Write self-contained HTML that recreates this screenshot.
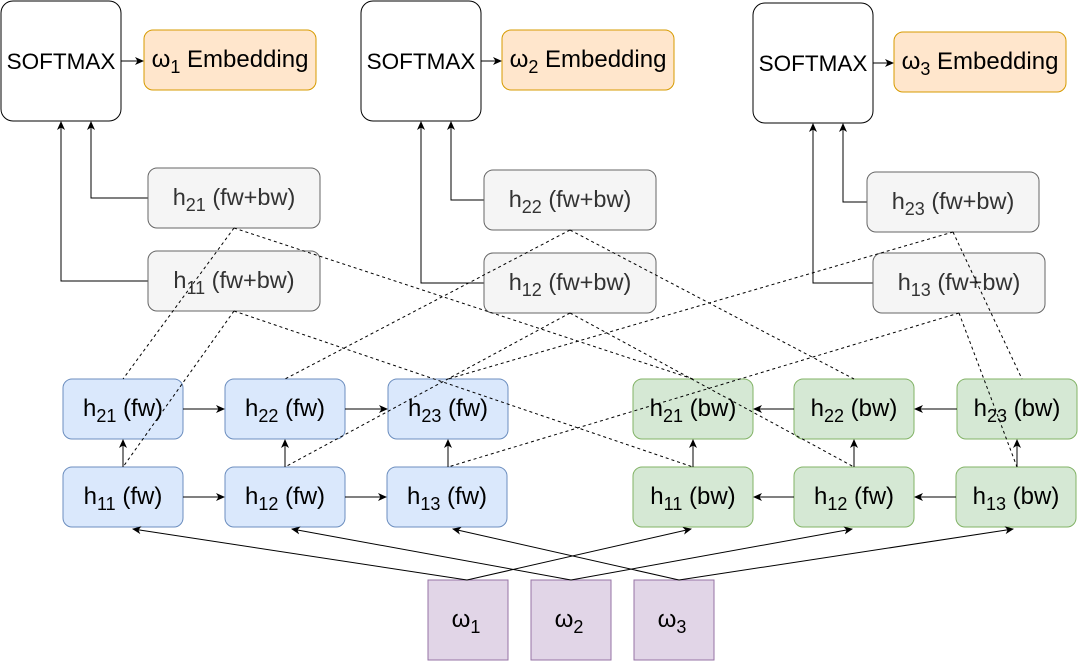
<!DOCTYPE html>
<html><head><meta charset="utf-8"><style>
html,body{margin:0;padding:0;background:#fff;}
svg{display:block;font-family:"Liberation Sans",sans-serif;}
</style></head><body>
<svg width="1078" height="661" viewBox="0 0 1078 661" xmlns="http://www.w3.org/2000/svg">
<defs>
<marker id="a" markerWidth="10" markerHeight="10" refX="8" refY="5" orient="auto" markerUnits="userSpaceOnUse">
<path d="M0,1 L9,5 L0,9 L2.5,5 Z" fill="#000"/>
</marker>
</defs>
<g fill="#fff" stroke="#000" stroke-width="1">
<rect x="1" y="1" width="120" height="120" rx="12"/>
<rect x="361" y="1" width="120" height="120" rx="12"/>
<rect x="753" y="3" width="120" height="120" rx="12"/>
</g>
<g font-size="22.5" text-anchor="middle" fill="#000">
<text x="61" y="69">SOFTMAX</text>
<text x="421" y="69">SOFTMAX</text>
<text x="813" y="71">SOFTMAX</text>
</g>
<g fill="#ffe6cc" stroke="#d79b00">
<rect x="144" y="30" width="172" height="60" rx="9"/>
<rect x="502" y="30" width="172" height="60" rx="9"/>
<rect x="894" y="32" width="172" height="60" rx="9"/>
</g>
<g font-size="24" text-anchor="middle" fill="#000">
<text x="230" y="67">ω<tspan font-size="18" dy="6">1</tspan><tspan dy="-6"> Embedding</tspan></text>
<text x="588" y="67">ω<tspan font-size="18" dy="6">2</tspan><tspan dy="-6"> Embedding</tspan></text>
<text x="980" y="69">ω<tspan font-size="18" dy="6">3</tspan><tspan dy="-6"> Embedding</tspan></text>
</g>
<g stroke="#000" fill="none" marker-end="url(#a)">
<line x1="121" y1="61" x2="143" y2="61"/>
<line x1="481" y1="61" x2="501" y2="61"/>
<line x1="873" y1="63" x2="893" y2="63"/>
<polyline points="148,198 91,198 91,122"/>
<polyline points="148,281 61,281 61,122"/>
<polyline points="484,200 451,200 451,122"/>
<polyline points="484,283 421,283 421,122"/>
<polyline points="867,202 843,202 843,124"/>
<polyline points="873,283 813,283 813,124"/>
</g>
<g fill="#f5f5f5" stroke="#666">
<rect x="148" y="168" width="172" height="60" rx="9"/>
<rect x="148" y="251" width="172" height="60" rx="9"/>
<rect x="484" y="170" width="172" height="60" rx="9"/>
<rect x="484" y="253" width="172" height="60" rx="9"/>
<rect x="867" y="172" width="172" height="60" rx="9"/>
<rect x="873" y="253" width="172" height="60" rx="9"/>
</g>
<g font-size="23.5" text-anchor="middle" fill="#333">
<text x="234" y="205">h<tspan font-size="18" dy="6">21</tspan><tspan dy="-6"> (fw+bw)</tspan></text>
<text x="234" y="288">h<tspan font-size="18" dy="6">11</tspan><tspan dy="-6"> (fw+bw)</tspan></text>
<text x="570" y="207">h<tspan font-size="18" dy="6">22</tspan><tspan dy="-6"> (fw+bw)</tspan></text>
<text x="570" y="290">h<tspan font-size="18" dy="6">12</tspan><tspan dy="-6"> (fw+bw)</tspan></text>
<text x="953" y="209">h<tspan font-size="18" dy="6">23</tspan><tspan dy="-6"> (fw+bw)</tspan></text>
<text x="959" y="290">h<tspan font-size="18" dy="6">13</tspan><tspan dy="-6"> (fw+bw)</tspan></text>
</g>
<g fill="#dae8fc" stroke="#6c8ebf">
<rect x="63" y="379" width="120" height="60" rx="9"/>
<rect x="225" y="379" width="120" height="60" rx="9"/>
<rect x="388" y="379" width="120" height="60" rx="9"/>
<rect x="63" y="467" width="120" height="60" rx="9"/>
<rect x="225" y="467" width="120" height="60" rx="9"/>
<rect x="387" y="467" width="120" height="60" rx="9"/>
</g>
<g fill="#d5e8d4" stroke="#82b366">
<rect x="633" y="379" width="120" height="60" rx="9"/>
<rect x="794" y="379" width="120" height="60" rx="9"/>
<rect x="957" y="379" width="120" height="60" rx="9"/>
<rect x="633" y="467" width="120" height="60" rx="9"/>
<rect x="794" y="467" width="120" height="60" rx="9"/>
<rect x="956" y="467" width="120" height="60" rx="9"/>
</g>
<g font-size="24" text-anchor="middle" fill="#000">
<text x="123" y="416">h<tspan font-size="18" dy="6">21</tspan><tspan dy="-6"> (fw)</tspan></text>
<text x="285" y="416">h<tspan font-size="18" dy="6">22</tspan><tspan dy="-6"> (fw)</tspan></text>
<text x="448" y="416">h<tspan font-size="18" dy="6">23</tspan><tspan dy="-6"> (fw)</tspan></text>
<text x="123" y="504">h<tspan font-size="18" dy="6">11</tspan><tspan dy="-6"> (fw)</tspan></text>
<text x="285" y="504">h<tspan font-size="18" dy="6">12</tspan><tspan dy="-6"> (fw)</tspan></text>
<text x="447" y="504">h<tspan font-size="18" dy="6">13</tspan><tspan dy="-6"> (fw)</tspan></text>
<text x="693" y="416">h<tspan font-size="18" dy="6">21</tspan><tspan dy="-6"> (bw)</tspan></text>
<text x="854" y="416">h<tspan font-size="18" dy="6">22</tspan><tspan dy="-6"> (bw)</tspan></text>
<text x="1017" y="416">h<tspan font-size="18" dy="6">23</tspan><tspan dy="-6"> (bw)</tspan></text>
<text x="693" y="504">h<tspan font-size="18" dy="6">11</tspan><tspan dy="-6"> (bw)</tspan></text>
<text x="854" y="504">h<tspan font-size="18" dy="6">12</tspan><tspan dy="-6"> (fw)</tspan></text>
<text x="1016" y="504">h<tspan font-size="18" dy="6">13</tspan><tspan dy="-6"> (bw)</tspan></text>
</g>
<g fill="#e1d5e7" stroke="#9673a6">
<rect x="428" y="580" width="80" height="80"/>
<rect x="531" y="580" width="80" height="80"/>
<rect x="634" y="580" width="80" height="80"/>
</g>
<g font-size="24" text-anchor="middle" fill="#000">
<text x="466" y="627">ω<tspan font-size="18" dy="6">1</tspan></text>
<text x="569" y="627">ω<tspan font-size="18" dy="6">2</tspan></text>
<text x="672" y="627">ω<tspan font-size="18" dy="6">3</tspan></text>
</g>
<g stroke="#000" fill="none" marker-end="url(#a)">
<line x1="183" y1="409" x2="224" y2="409"/>
<line x1="345" y1="409" x2="387" y2="409"/>
<line x1="183" y1="497" x2="224" y2="497"/>
<line x1="345" y1="497" x2="386" y2="497"/>
<line x1="794" y1="409" x2="754" y2="409"/>
<line x1="957" y1="409" x2="915" y2="409"/>
<line x1="794" y1="497" x2="754" y2="497"/>
<line x1="956" y1="497" x2="915" y2="497"/>
<line x1="123" y1="467" x2="123" y2="440"/>
<line x1="285" y1="467" x2="285" y2="440"/>
<line x1="448" y1="467" x2="448" y2="440"/>
<line x1="693" y1="467" x2="693" y2="440"/>
<line x1="854" y1="467" x2="854" y2="440"/>
<line x1="1017" y1="467" x2="1017" y2="440"/>
<line x1="467" y1="580" x2="133" y2="529"/>
<line x1="467" y1="580" x2="691" y2="529"/>
<line x1="571" y1="580" x2="292" y2="529"/>
<line x1="571" y1="580" x2="852" y2="529"/>
<line x1="679" y1="580" x2="453" y2="529"/>
<line x1="679" y1="580" x2="1013" y2="529"/>
</g>
<g stroke="#000" stroke-width="1" stroke-dasharray="3,3" fill="none">
<line x1="234" y1="228" x2="123" y2="379"/>
<line x1="234" y1="228" x2="693" y2="379"/>
<line x1="234" y1="311" x2="123" y2="467"/>
<line x1="234" y1="311" x2="693" y2="467"/>
<line x1="570" y1="230" x2="285" y2="379"/>
<line x1="570" y1="230" x2="854" y2="379"/>
<line x1="570" y1="313" x2="285" y2="467"/>
<line x1="570" y1="313" x2="854" y2="467"/>
<line x1="953" y1="232" x2="448" y2="379"/>
<line x1="953" y1="232" x2="1022" y2="379"/>
<line x1="959" y1="313" x2="448" y2="467"/>
<line x1="959" y1="313" x2="1017" y2="467"/>
</g>
</svg>
</body></html>
